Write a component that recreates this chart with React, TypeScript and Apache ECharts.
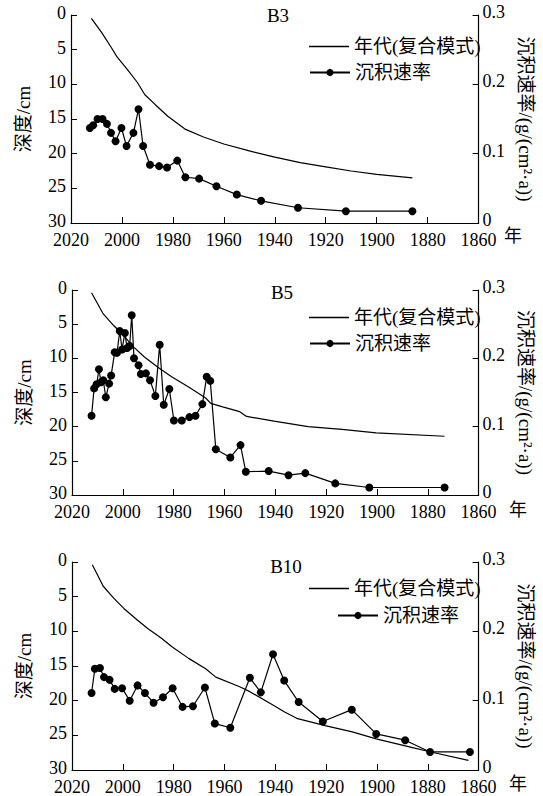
import React, { useEffect, useRef } from "react";
import * as echarts from "echarts";

// ---------- Data ----------
const panelNames = ["B3", "B5", "B10"];
const ageName = "年代(复合模式)";
const rateName = "沉积速率";
const xTickYears = [2020, 2000, 1980, 1960, 1940, 1920, 1900, 1880, 1860];

// B3
const b3AgeYear = [2012, 2008, 2004, 2002, 1998, 1994, 1991, 1987, 1982, 1975, 1968, 1960, 1950, 1940, 1930, 1920, 1910, 1900, 1886];
const b3AgeDepth = [0.5, 2.5, 4.8, 6.0, 7.8, 9.7, 11.5, 12.9, 14.6, 16.5, 17.6, 18.6, 19.6, 20.5, 21.3, 21.9, 22.5, 23.0, 23.5];
const b3RateYear = [2012.6, 2011.3, 2009.6, 2007.6, 2005.9, 2004.3, 2002.5, 2000.2, 1998.2, 1995.5, 1993.5, 1991.7, 1989.0, 1985.4, 1982.3, 1978.3, 1975.1, 1969.7, 1962.9, 1954.9, 1945.4, 1930.9, 1912.1, 1886];
const b3RateValue = [0.137, 0.141, 0.150, 0.150, 0.143, 0.130, 0.118, 0.137, 0.111, 0.130, 0.164, 0.111, 0.084, 0.082, 0.080, 0.090, 0.066, 0.064, 0.053, 0.041, 0.032, 0.022, 0.017, 0.017];

// B5
const b5AgeYear = [2012.3, 2007.7, 2003.6, 1999.6, 1995.6, 1991.5, 1986.2, 1980.8, 1974.1, 1967.4, 1965.4, 1960.7, 1954.0, 1951.3, 1940.5, 1927.1, 1913.7, 1900.3, 1873.4];
const b5AgeDepth = [0.4, 3.5, 5.2, 6.7, 8.4, 9.8, 11.3, 12.7, 14.2, 15.8, 16.6, 17.1, 17.8, 18.5, 19.2, 20.0, 20.4, 20.9, 21.4];
const b5RateYear = [2012.3, 2011.3, 2010.3, 2009.4, 2008.6, 2007.7, 2006.7, 2005.4, 2004.6, 2003.2, 2002.3, 2001.2, 2000.3, 1999.2, 1998.3, 1997.3, 1996.5, 1995.6, 1993.8, 1992.9, 1990.9, 1989.3, 1987.2, 1985.5, 1983.9, 1981.7, 1979.9, 1976.8, 1973.8, 1971.4, 1968.7, 1967.0, 1965.6, 1963.4, 1957.7, 1953.7, 1951.6, 1942.6, 1934.8, 1928.2, 1916.4, 1903.0, 1873.4];
const b5RateValue = [0.116, 0.156, 0.162, 0.184, 0.165, 0.168, 0.143, 0.163, 0.175, 0.209, 0.208, 0.240, 0.213, 0.237, 0.215, 0.218, 0.263, 0.200, 0.190, 0.177, 0.178, 0.168, 0.145, 0.220, 0.132, 0.155, 0.109, 0.109, 0.114, 0.116, 0.133, 0.173, 0.167, 0.067, 0.055, 0.073, 0.034, 0.035, 0.029, 0.032, 0.017, 0.011, 0.011];

// B10
const b10AgeYear = [2012, 2007.7, 2003.6, 1999.6, 1994.2, 1990.2, 1984.8, 1980.8, 1974.1, 1967.4, 1963.4, 1954.0, 1950.0, 1940.6, 1936.5, 1931.2, 1920.4, 1909.7, 1900.3, 1886.8, 1878.8, 1864.0];
const b10AgeDepth = [0.4, 3.5, 5.2, 6.7, 8.4, 9.6, 11.0, 12.2, 13.9, 15.4, 16.6, 18.0, 18.7, 20.7, 21.6, 22.6, 23.6, 24.5, 25.5, 26.7, 27.4, 28.6];
const b10RateYear = [2012.3, 2011.0, 2009.0, 2007.4, 2005.2, 2003.2, 2000.3, 1997.3, 1994.2, 1991.3, 1987.9, 1984.2, 1980.4, 1976.5, 1972.4, 1967.7, 1963.8, 1957.7, 1950.0, 1945.7, 1940.9, 1936.5, 1930.8, 1921.3, 1909.9, 1900.3, 1888.9, 1879.1, 1863.4];
const b10RateValue = [0.111, 0.146, 0.147, 0.134, 0.130, 0.117, 0.118, 0.100, 0.122, 0.111, 0.097, 0.105, 0.118, 0.091, 0.092, 0.119, 0.067, 0.061, 0.133, 0.112, 0.167, 0.129, 0.098, 0.070, 0.087, 0.052, 0.043, 0.026, 0.026];

const depthTicks = [0, 5, 10, 15, 20, 25, 30];
const rateTicks = [0, 0.1, 0.2, 0.3];

const zip = (xs: number[], ys: number[]) => xs.map((x, i) => [x, ys[i]]);

const ageSets = [zip(b3AgeYear, b3AgeDepth), zip(b5AgeYear, b5AgeDepth), zip(b10AgeYear, b10AgeDepth)];
const rateSets = [zip(b3RateYear, b3RateValue), zip(b5RateYear, b5RateValue), zip(b10RateYear, b10RateValue)];

const FONT = "'Liberation Serif', 'Noto Sans CJK SC', serif";

export default function App() {
  const ref = useRef<HTMLDivElement>(null);
  useEffect(() => {
    if (!ref.current) return;
    const chart = echarts.init(ref.current, undefined, { renderer: "svg" });

    const grids = [
      { left: 71, top: 15, width: 413, height: 208 },
      { left: 72, top: 290, width: 414, height: 205 },
      { left: 72, top: 562, width: 414, height: 209 },
    ];

    const axisLine = { show: true, onZero: false, lineStyle: { color: "#000", width: 1.2 } };
    const axisTick = { show: true, inside: true, length: 6, lineStyle: { color: "#000", width: 1 } };
    const labelStyle = { color: "#000", fontSize: 18, fontFamily: FONT };

    const xAxes = grids.map((_, i) => ({
      type: "value",
      gridIndex: i,
      min: xTickYears[xTickYears.length - 1],
      max: xTickYears[0],
      interval: 20,
      inverse: true,
      axisLine,
      axisTick,
      splitLine: { show: false },
      axisLabel: { ...labelStyle, margin: 8, formatter: (v: number) => String(v) },
    }));

    const yAxes: any[] = [];
    grids.forEach((_, i) => {
      yAxes.push({
        type: "value",
        gridIndex: i,
        position: "left",
        min: depthTicks[0],
        max: depthTicks[depthTicks.length - 1],
        interval: 5,
        inverse: true,
        name: "深度/cm",
        nameLocation: "middle",
        nameGap: 38,
        nameTextStyle: { color: "#000", fontSize: 19, fontFamily: FONT },
        axisLine,
        axisTick,
        splitLine: { show: false },
        axisLabel: {
          ...labelStyle,
          margin: 5,
          verticalAlign: "bottom",
          lineHeight: 18,
          padding: [0, 0, -7, 0],
        },
      });
      yAxes.push({
        type: "value",
        gridIndex: i,
        position: "right",
        min: rateTicks[0],
        max: rateTicks[rateTicks.length - 1],
        interval: 0.1,
        name: "沉积速率/(g/(cm²·a))",
        nameLocation: "middle",
        nameRotate: -90,
        nameGap: 22,
        nameTextStyle: { color: "#000", fontSize: 19, fontFamily: FONT },
        axisLine,
        axisTick,
        splitLine: { show: false },
        axisLabel: {
          ...labelStyle,
          margin: 4,
          verticalAlign: "bottom",
          lineHeight: 18,
          padding: [0, 0, -6, 0],
          formatter: (v: number) => String(Math.round(v * 10) / 10),
        },
      });
    });

    const series: any[] = [];
    grids.forEach((_, i) => {
      series.push({
        type: "line",
        name: ageName,
        xAxisIndex: i,
        yAxisIndex: 2 * i,
        data: ageSets[i],
        symbol: "none",
        lineStyle: { color: "#000", width: 1.2 },
        itemStyle: { color: "#000" },
      });
      series.push({
        type: "line",
        name: rateName,
        xAxisIndex: i,
        yAxisIndex: 2 * i + 1,
        data: rateSets[i],
        symbol: "circle",
        symbolSize: 8,
        showSymbol: true,
        lineStyle: { color: "#000", width: 1.2 },
        itemStyle: { color: "#000" },
      });
    });

    const textStyle = { color: "#000", fontSize: 19, fontFamily: FONT };
    const legendPos = [
      [304, 31, 304, 58],
      [304, 302, 304, 329],
      [304, 573, 332, 601],
    ];
    const legends: any[] = [];
    legendPos.forEach((p) => {
      legends.push({
        data: [{ name: ageName, icon: "rect" }],
        left: p[0],
        top: p[1] + 1,
        itemWidth: 40,
        itemHeight: 1.3,
        selectedMode: false,
        textStyle,
      });
      legends.push({
        data: [rateName],
        left: p[2],
        top: p[3],
        itemWidth: 40,
        itemHeight: 9,
        selectedMode: false,
        textStyle,
      });
    });

    const titlePos = [
      [278, 15],
      [282, 292],
      [286, 566],
    ];
    const yearPos = [
      [513, 236],
      [518, 510],
      [518, 784],
    ];
    const graphics: any[] = [];
    panelNames.forEach((n, i) => {
      graphics.push({
        type: "text",
        x: titlePos[i][0],
        y: titlePos[i][1],
        style: { text: n, fill: "#000", font: `19px ${FONT}`, textAlign: "center", textVerticalAlign: "middle" },
      });
      graphics.push({
        type: "text",
        x: yearPos[i][0],
        y: yearPos[i][1],
        style: { text: "年", fill: "#000", font: `18px ${FONT}`, textAlign: "center", textVerticalAlign: "middle" },
      });
    });

    chart.setOption({
      animation: false,
      backgroundColor: "#fff",
      grid: grids,
      xAxis: xAxes,
      yAxis: yAxes,
      legend: legends,
      series,
      graphic: graphics,
    });

    return () => chart.dispose();
  }, []);

  return (
    <div
      ref={ref}
      style={{ position: "fixed", left: 0, top: 0, width: 543, height: 796, background: "#fff" }}
    />
  );
}
